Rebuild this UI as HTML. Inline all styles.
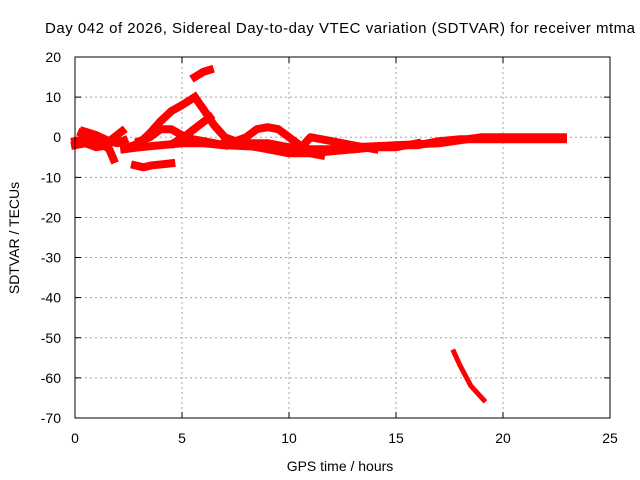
<!DOCTYPE html>
<html><head><meta charset="utf-8"><style>
html,body{margin:0;padding:0;background:#fff;}
svg{display:block;font-family:"Liberation Sans",sans-serif;}
</style></head><body>
<svg id="chart" width="640" height="480" viewBox="0 0 640 480">
<text x="340" y="33" font-size="15" text-anchor="middle" textLength="590" lengthAdjust="spacing">Day 042 of 2026, Sidereal Day-to-day VTEC variation (SDTVAR) for receiver mtma</text>
<text x="340" y="471" font-size="14" text-anchor="middle">GPS time / hours</text>
<text x="19" y="238" font-size="14" text-anchor="middle" transform="rotate(-90 19 238)">SDTVAR / TECUs</text>
<g id="grid"></g>
<g id="ticks"></g>
<g id="series"></g>
<rect x="75" y="57" width="535" height="361" fill="none" stroke="#000" stroke-width="1"/>
</svg>
<script>
const xTicks=[0,5,10,15,20,25];
const yTicks=[20,10,0,-10,-20,-30,-40,-50,-60,-70];
const trackHours=[
[0,0.5,1,1.5,2,2.3],
[0,0.5,1,1.5],
[0.3,1,1.6,1.8],
[0.4,1,1.6,2.2],
[2.8,3.2,3.6,4,4.5],
[2.5,3,3.5,4,4.5,5,5.6],
[5.6,6,6.5,7,7.5],
[6.3,5.8,5.2,4.6],
[3,3.5,4,4.5,5,5.5,6,6.5,7],
[2.3,3,4,5,6,7,8,9,10,11,12,13,14,15,16,17,18,19,20,21,22,22.8],
[7.5,8,8.5,9,9.5,10,10.5,11,11.5],
[10.5,11,12,13,14],
[7,9,11,13,15,17,19,21,22.8],
[5.6,6,6.3],
[17.7,18,18.5,19.1],
[7,8,9,10,11,12,13,14,15,16]
];
const trackValues=[
[-1,-0.5,-1,-1,-1.5,-0.8],
[-2,-1.5,-2.5,-2],
[1,-0.5,-3,-5.5],
[1.5,0.5,-1,1.5],
[-7,-7.5,-7,-6.8,-6.5],
[-2.5,-1.5,1,4,6.5,8,10],
[10,7,3,0,-1],
[5,3,0.5,-1.5],
[-1,0,2,2,0.5,-0.5,-1,-1.5,-2],
[-3,-2.5,-2,-1.5,-1.5,-2,-1.5,-1.5,-2.5,-3,-3,-3,-2.5,-2,-2,-1,-0.5,-0.5,-0.5,-0.5,-0.5,-0.5],
[-1,0,2,2.5,2,0,-2,-4,-4.5],
[-3,0,-1,-2,-3],
[-2,-2.5,-3.5,-2.5,-2,-1.5,0,0,0],
[15,16.3,16.8],
[-53.5,-57,-62,-65.5],
[-1,-2,-3,-4,-4,-3.5,-3,-2.5,-2.5,-1.5]
];
const NS='http://www.w3.org/2000/svg';
const X=h=>75+h*535/25;
const Y=v=>57+(20-v)*361/90;
function mk(t,a){const e=document.createElementNS(NS,t);for(const k in a)e.setAttribute(k,a[k]);return e;}
const grid=document.getElementById('grid'),ticks=document.getElementById('ticks'),series=document.getElementById('series');
xTicks.forEach(t=>{
  if(t>0&&t<25){const g=mk('line',{x1:X(t),x2:X(t),y1:57,y2:418,stroke:'#a0a0a0','stroke-dasharray':'2,3'});
  
  
  grid.appendChild(g);}
  const tk=mk('path',{d:`M${X(t)} 418v-6M${X(t)} 57v6`,stroke:'#000'});
  
  
  ticks.appendChild(tk);
  const l=mk('text',{x:X(t),y:443,'font-size':14,'text-anchor':'middle'});l.textContent=t;
  
  
  ticks.appendChild(l);
});
yTicks.forEach(t=>{
  if(t<20&&t>-70){const g=mk('line',{x1:75,x2:610,y1:Y(t),y2:Y(t),stroke:'#a0a0a0','stroke-dasharray':'2,3'});
  
  
  grid.appendChild(g);}
  const tk=mk('path',{d:`M75 ${Y(t)}h6M610 ${Y(t)}h-6`,stroke:'#000'});
  
  
  ticks.appendChild(tk);
  const l=mk('text',{x:61,y:Y(t)+5,'font-size':14,'text-anchor':'end'});l.textContent=t;
  
  
  ticks.appendChild(l);
});
trackHours.forEach((hs,i)=>{
  const pts=hs.map((h,j)=>X(h)+','+Y(trackValues[i][j])).join(' ');
  const p=mk('polyline',{points:pts,fill:'none',stroke:'#ff0000','stroke-width':i===14?5:8,'stroke-linejoin':'round','stroke-linecap':'square'});
  
  
  series.appendChild(p);
});
</script>
</body></html>
